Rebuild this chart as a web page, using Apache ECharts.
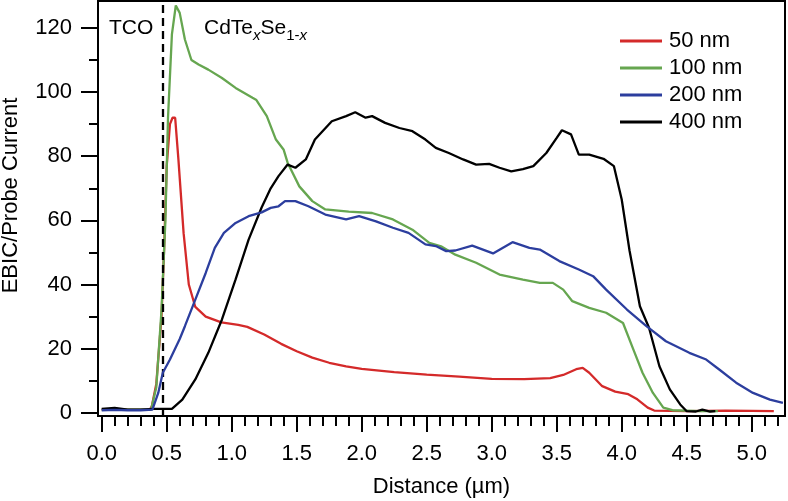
<!DOCTYPE html>
<html>
<head>
<meta charset="utf-8">
<script src="https://cdn.jsdelivr.net/npm/echarts@6/dist/echarts.min.js"></script>
<style>
html,body{margin:0;padding:0;background:#fff;}
#chart{width:788px;height:501px;}
</style>
</head>
<body>
<div id="chart"></div>
<script>
// ---- Data ----
const seriesNames = ['50 nm', '100 nm', '200 nm', '400 nm'];
const seriesColors = ['#d42a2a', '#66a650', '#2c3e9e', '#000000'];

const dist50 = [0.0,0.1,0.2,0.3,0.37,0.385,0.42,0.46,0.48,0.50,0.525,0.545,0.565,0.59,0.63,0.67,0.72,0.80,0.92,1.05,1.12,1.25,1.38,1.5,1.62,1.75,1.88,2.0,2.25,2.5,2.75,3.0,3.25,3.45,3.55,3.65,3.70,3.75,3.85,3.95,4.05,4.12,4.2,4.25,4.5,4.8,5.0,5.17];
const cur50  = [1.0,1.1,0.9,0.9,1.0,2,9,30,51,77,90,92,92,79,56,40,33,30,28.2,27.4,26.8,24.4,21.5,19.2,17.2,15.6,14.5,13.7,12.7,11.9,11.3,10.6,10.5,10.8,11.8,13.6,14.0,12.5,8.3,6.6,5.8,4.2,1.6,0.7,0.5,0.7,0.6,0.5];

const dist100 = [0.0,0.2,0.38,0.42,0.46,0.49,0.51,0.54,0.57,0.60,0.64,0.69,0.745,0.82,0.925,1.03,1.16,1.19,1.27,1.34,1.40,1.43,1.52,1.62,1.72,1.90,2.08,2.24,2.39,2.52,2.61,2.72,2.88,3.06,3.24,3.37,3.47,3.55,3.62,3.75,3.88,4.01,4.09,4.16,4.24,4.32,4.39,4.6,4.74];
const cur100  = [1.0,1.0,1.0,8,32,60,92,118,127,124.7,116.4,110,108.6,107,104.4,101.3,98.2,97.5,92.5,85.2,82,78,70.6,66,63.4,62.7,62.3,60.3,57.1,53,51.9,49.3,46.8,43.1,41.5,40.5,40.5,38.4,34.8,32.7,31.2,28,19.7,12.5,6.2,1.6,0.8,0.5,0.5];

const dist200 = [0.0,0.1,0.2,0.3,0.39,0.435,0.47,0.525,0.60,0.64,0.72,0.80,0.87,0.94,1.03,1.13,1.23,1.30,1.36,1.41,1.49,1.59,1.72,1.88,1.98,2.11,2.24,2.36,2.49,2.57,2.65,2.72,2.85,3.01,3.16,3.29,3.37,3.52,3.67,3.78,3.88,4.04,4.19,4.34,4.52,4.65,4.75,4.88,5.01,5.14,5.24];
const cur200  = [0.8,0.9,0.8,0.8,1.0,6.2,12.5,16.6,23,27,35.3,43.6,51.4,56.1,59.2,61.3,62.5,63.9,64.4,66,66,64.4,61.8,60.3,61.3,59.7,57.7,56.1,52.5,52,50.4,50.6,52.1,49.7,53.2,51.4,50.9,47.3,44.7,42.6,38.4,32.2,27,22.3,18.7,16.6,13.5,9.4,6.2,4.1,3.1];

const dist400 = [0.0,0.1,0.2,0.3,0.4,0.54,0.62,0.72,0.82,0.925,1.03,1.13,1.23,1.30,1.36,1.43,1.49,1.57,1.64,1.77,1.88,1.95,2.03,2.08,2.18,2.29,2.39,2.49,2.57,2.67,2.78,2.88,2.98,3.06,3.15,3.24,3.32,3.42,3.50,3.54,3.61,3.67,3.75,3.86,3.94,4.00,4.06,4.14,4.21,4.29,4.37,4.45,4.50,4.57,4.62,4.68,4.72];
const cur400  = [1.2,1.5,1.0,1.0,1.2,1.2,4.1,10.4,18.7,29.1,41.6,54,64,70,73.8,77.4,76.4,79,85.2,90.9,92.5,93.7,92,92.5,90.4,88.8,87.8,85.2,82.6,81,79,77.4,77.6,76.4,75.3,76,76.9,81,85.7,88.1,86.8,80.5,80.5,79.2,76.9,66.5,50.6,33.2,26.5,14.5,7.3,2.6,0.5,0.4,1.0,0.4,0.5];

const xMajorTicks = [0.0,0.5,1.0,1.5,2.0,2.5,3.0,3.5,4.0,4.5,5.0];
const xMinorTicks = [0.1,0.2,0.3,0.4,0.6,0.7,0.8,0.9,1.1,1.2,1.3,1.4,1.6,1.7,1.8,1.9,2.1,2.2,2.3,2.4,2.6,2.7,2.8,2.9,3.1,3.2,3.3,3.4,3.6,3.7,3.8,3.9,4.1,4.2,4.3,4.4,4.6,4.7,4.8,4.9,5.1,5.2];
const yMajorTicks = [0,20,40,60,80,100,120];
const yMinorTicks = [10,30,50,70,90,110];

const interfaceX = 0.475;   // TCO / CdTeSe boundary (dashed line)
const xLabel = 'Distance (µm)';
const yLabel = 'EBIC/Probe Current';

// ---- Chart ----
const FONT = '"Liberation Sans", Arial, Helvetica, sans-serif';
const chart = echarts.init(document.getElementById('chart'), null, {renderer: 'canvas'});

function pairs(xs, ys) { return xs.map((x, i) => [x, ys[i]]); }
const allData = [pairs(dist50, cur50), pairs(dist100, cur100), pairs(dist200, cur200), pairs(dist400, cur400)];
const zOrder = [2, 3, 5, 4];

const X_MIN = -0.0285, X_MAX = 5.256, Y_MIN = -1, Y_MAX = 128.4;

const series = seriesNames.map((name, i) => ({
  name: name,
  type: 'line',
  xAxisIndex: 0,
  yAxisIndex: 0,
  data: allData[i],
  showSymbol: false,
  symbol: 'none',
  smooth: false,
  z: zOrder[i],
  lineStyle: {color: seriesColors[i], width: 2.3},
  itemStyle: {color: seriesColors[i]},
  markLine: i === 3 ? {
    silent: true,
    symbol: ['none', 'none'],
    label: {show: false},
    lineStyle: {color: '#000', width: 2.3, type: [8, 5]},
    data: [{xAxis: interfaceX}]
  } : undefined
}));

const axisFont = {fontFamily: FONT, fontSize: 22, color: '#000'};

chart.setOption({
  animation: false,
  backgroundColor: '#fff',
  grid: {
    left: 98, right: 3, top: 1, bottom: 85,
    show: true, borderColor: '#000', borderWidth: 2,
    containLabel: false, outerBoundsMode: 'none'
  },
  legend: {
    orient: 'vertical',
    left: 615, top: 25,
    itemWidth: 42, itemHeight: 3, itemGap: 5,
    icon: 'rect',
    data: seriesNames,
    textStyle: {fontFamily: FONT, fontSize: 22, color: '#000', lineHeight: 22, padding: [0, 0, 0, 2]}
  },
  xAxis: [{
    type: 'value', min: X_MIN, max: X_MAX, position: 'bottom',
    axisLine: {show: true, onZero: false, lineStyle: {color: '#000', width: 2}},
    axisTick: {show: true, customValues: xMajorTicks, length: 16, lineStyle: {color: '#000', width: 2}},
    axisLabel: Object.assign({customValues: xMajorTicks, margin: 27, formatter: v => v.toFixed(1)}, axisFont),
    splitLine: {show: false},
    name: xLabel, nameLocation: 'middle', nameGap: 60,
    nameTextStyle: {fontFamily: FONT, fontSize: 22, color: '#000'}
  }, {
    type: 'value', min: X_MIN, max: X_MAX, position: 'bottom',
    axisLine: {show: false, onZero: false},
    axisTick: {show: true, customValues: xMinorTicks, length: 10, lineStyle: {color: '#000', width: 2}},
    axisLabel: {show: false},
    splitLine: {show: false}
  }],
  yAxis: [{
    type: 'value', min: Y_MIN, max: Y_MAX, position: 'left',
    axisLine: {show: true, onZero: false, lineStyle: {color: '#000', width: 2}},
    axisTick: {show: true, customValues: yMajorTicks, length: 17, lineStyle: {color: '#000', width: 2}},
    axisLabel: Object.assign({customValues: yMajorTicks, margin: 26}, axisFont),
    splitLine: {show: false},
    name: yLabel, nameLocation: 'middle', nameGap: 76,
    nameTextStyle: {fontFamily: FONT, fontSize: 22, color: '#000', padding: [0, 0, 0, 26]}
  }, {
    type: 'value', min: Y_MIN, max: Y_MAX, position: 'left',
    axisLine: {show: false, onZero: false},
    axisTick: {show: true, customValues: yMinorTicks, length: 9, lineStyle: {color: '#000', width: 2}},
    axisLabel: {show: false},
    splitLine: {show: false}
  }],
  graphic: [{
    type: 'text', left: 109, top: 18, silent: true,
    style: {text: 'TCO', fontFamily: FONT, fontSize: 21, fill: '#000'}
  }, {
    type: 'text', left: 204, top: 18, silent: true,
    style: {
      text: '{m|CdTe}{si|x}{m|Se}{s|1-}{si|x}',
      fontFamily: FONT, fill: '#000',
      rich: {
        m: {fontFamily: FONT, fontSize: 21, color: '#000', lineHeight: 26, verticalAlign: 'top', padding: [0,0,0,0]},
        s: {fontFamily: FONT, fontSize: 15, color: '#000', lineHeight: 26, verticalAlign: 'top', padding: [10,0,0,0]},
        si: {fontFamily: FONT, fontSize: 15, fontStyle: 'italic', color: '#000', lineHeight: 26, verticalAlign: 'top', padding: [10,0,0,0]}
      }
    }
  }],
  series: series
});
</script>
</body>
</html>
